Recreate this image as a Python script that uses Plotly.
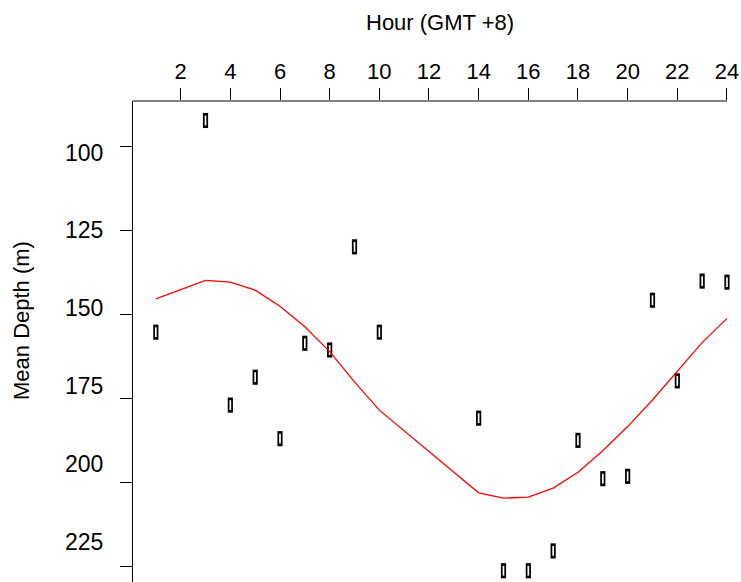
import plotly.graph_objects as go

# ---- data ----
hours = [1, 3, 4, 5, 6, 7, 8, 9, 10, 14, 15, 16, 17, 18, 19, 20, 21, 22, 23, 24]
mean_depth = [155.2, 92.2, 176.9, 168.6, 186.9, 158.5, 160.5, 129.8, 155.2, 180.8,
              226.2, 226.2, 220.3, 187.4, 198.8, 198.1, 145.7, 169.7, 140.0, 140.3]
fitted_depth = [145.3, 139.8, 140.3, 142.7, 147.5, 153.6, 161.0, 170.0, 178.4, 203.0,
                204.6, 204.3, 201.6, 196.9, 190.5, 183.3, 175.4, 167.0, 158.3, 151.1]
x_ticks = list(range(2, 25, 2))
y_ticks = [100, 125, 150, 175, 200, 225]

FONT = "Liberation Sans, Arial, sans-serif"
W, H = 741, 582
L, T = 133, 101
x_range = [0.08, 24.565]
y_range = [229.55, 86.40]
y_label_range = [237.93, 83.46]

fig = go.Figure()

# open rectangle markers: black bar with white core
fig.add_trace(go.Scatter(
    x=hours, y=mean_depth, mode="markers",
    marker=dict(symbol="line-ns", size=10.8, color="black",
                line=dict(width=5.2, color="black")),
    showlegend=False, hoverinfo="x+y"))
fig.add_trace(go.Scatter(
    x=hours, y=mean_depth, mode="markers",
    marker=dict(symbol="line-ns", size=7.0, color="white",
                line=dict(width=1.7, color="white")),
    showlegend=False, hoverinfo="skip"))

fig.add_trace(go.Scatter(
    x=hours, y=fitted_depth, mode="lines",
    line=dict(color="#ff0000", width=1.3),
    showlegend=False))

# dummy trace to keep label axis alive
fig.add_trace(go.Scatter(x=[None], y=[None], yaxis="y2", showlegend=False,
                         hoverinfo="skip"))

fig.update_layout(
    width=W, height=H,
    margin=dict(l=L, r=0, t=T, b=0),
    paper_bgcolor="white", plot_bgcolor="white",
    font=dict(family=FONT, size=22, color="black"),
    xaxis=dict(range=x_range, side="top", tickvals=x_ticks,
               ticks="outside", ticklen=12, tickwidth=1, tickcolor="black",
               showline=False, showgrid=False, zeroline=False,
               tickfont=dict(size=22, family=FONT, color="black")),
    yaxis=dict(range=y_range, tickvals=y_ticks, ticks="outside", ticklen=12,
               tickwidth=1, tickcolor="black", showticklabels=False,
               showline=True, linecolor="black", linewidth=1,
               showgrid=False, zeroline=False),
    yaxis2=dict(range=y_label_range, overlaying="y", side="left",
                tickvals=y_ticks, ticks="outside", ticklen=12,
                tickcolor="rgba(0,0,0,0)", showline=False, showgrid=False,
                zeroline=False, ticklabelstandoff=12,
                tickfont=dict(size=23, family=FONT, color="black")),
    shapes=[dict(type="line", xref="paper", yref="paper",
                 x0=0, x1=(24 - x_range[0]) / (x_range[1] - x_range[0]),
                 y0=1, y1=1, line=dict(color="black", width=1))],
    annotations=[
        dict(text="Hour (GMT +8)", xref="paper", yref="paper",
             x=(440 - L) / (W - L), y=1 + (T - 23) / (H - T),
             xanchor="center", yanchor="middle", showarrow=False,
             font=dict(size=22, family=FONT, color="black")),
        dict(text="Mean Depth (m)", xref="paper", yref="paper",
             x=(21 - L) / (W - L), y=(H - 321) / (H - T),
             xanchor="center", yanchor="middle", textangle=-90,
             showarrow=False,
             font=dict(size=22, family=FONT, color="black")),
    ],
)

fig.write_html("out.html")
